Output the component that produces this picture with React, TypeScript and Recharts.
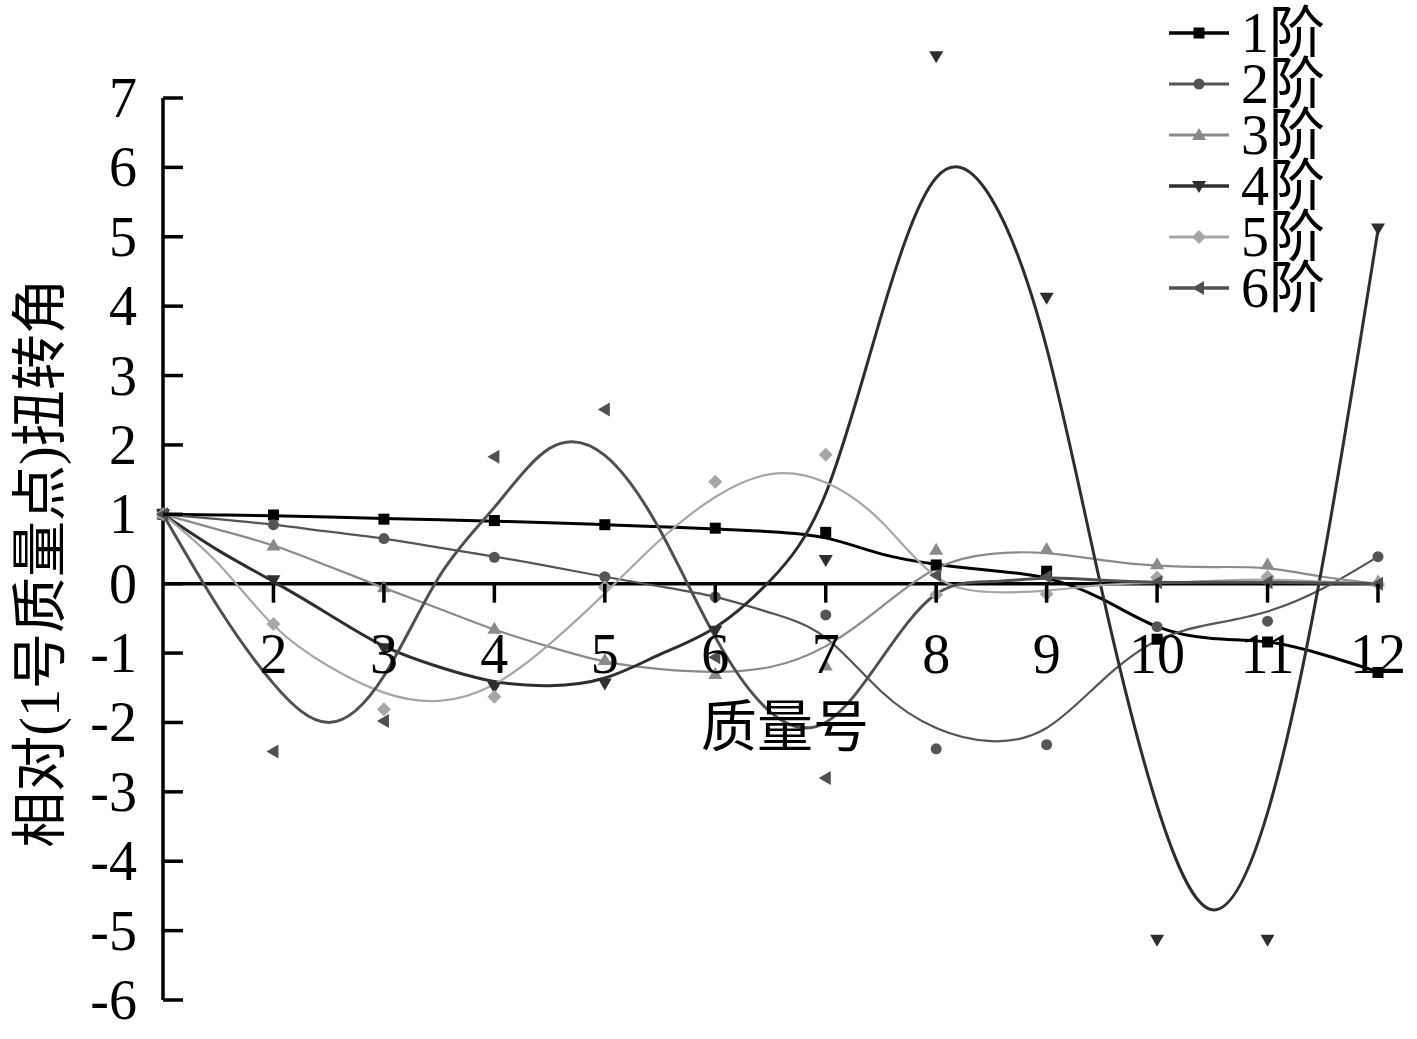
import React from "react"
import { ComposedChart, Line, XAxis, YAxis, ReferenceLine } from "recharts"

// mass numbers (marker positions) and the x positions sampled along the fitted curves
const massNo = [1, 2, 3, 4, 5, 6, 7, 8, 9, 10, 11, 12]
const curveX = [1, 1.5, 2, 2.5, 3, 3.5, 4, 4.5, 5, 5.5, 6, 6.5, 7, 7.5, 8, 8.5, 9, 9.5, 10, 10.5, 11, 11.5, 12]

const yTicks = [-6, -5, -4, -3, -2, -1, 0, 1, 2, 3, 4, 5, 6, 7]
const xTicks = [2, 3, 4, 5, 6, 7, 8, 9, 10, 11, 12]

// marker values
const mode1Pts = [1, 0.99, 0.93, 0.91, 0.85, 0.8, 0.74, 0.27, 0.18, -0.8, -0.84, -1.28]
const mode2Pts = [1, 0.85, 0.65, 0.38, 0.1, -0.19, -0.45, -2.38, -2.32, -0.62, -0.54, 0.39]
const mode3Pts = [1, 0.55, -0.05, -0.65, -1.1, -1.3, -1.18, 0.49, 0.5, 0.28, 0.28, 0.03]
const mode4Pts = [1, 0.05, -0.93, -1.49, -1.44, -0.68, 0.34, 7.6, 4.12, -5.13, -5.13, 5.12]
const mode5Pts = [1, -0.58, -1.81, -1.63, -0.05, 1.47, 1.86, -0.16, -0.15, 0.09, 0.1, 0.0]
const mode6Pts = [1, -2.42, -1.98, 1.83, 2.51, -1.06, -2.8, 0.12, 0.1, 0.02, 0.02, 0.0]

// curve values
const mode1Curve = [1.0, 0.99, 0.98, 0.96, 0.94, 0.92, 0.9, 0.88, 0.85, 0.82, 0.79, 0.75, 0.66, 0.43, 0.28, 0.19, 0.08, -0.22, -0.62, -0.79, -0.84, -1.02, -1.27]
const mode2Curve = [1, 0.93, 0.85, 0.75, 0.65, 0.52, 0.39, 0.25, 0.1, -0.04, -0.19, -0.42, -0.78, -1.55, -2.08, -2.27, -2.08, -1.4, -0.82, -0.58, -0.4, -0.07, 0.39]
const mode3Curve = [1, 0.78, 0.55, 0.25, -0.06, -0.36, -0.66, -0.91, -1.12, -1.23, -1.27, -1.2, -0.9, -0.34, 0.22, 0.43, 0.44, 0.34, 0.26, 0.24, 0.22, 0.1, 0.0]
const mode4Curve = [1, 0.48, 0.03, -0.44, -0.9, -1.2, -1.41, -1.47, -1.36, -1.02, -0.63, 0.05, 1.3, 3.85, 5.85, 5.55, 3.4, -0.1, -3.2, -4.7, -3.3, 0.3, 5.1]
const mode5Curve = [1, 0.29, -0.6, -1.19, -1.57, -1.69, -1.45, -0.87, -0.14, 0.63, 1.25, 1.58, 1.46, 0.9, 0.1, -0.12, -0.1, -0.02, 0.01, 0.04, 0.06, 0.03, 0.0]
const mode6Curve = [1, -0.34, -1.44, -2.0, -1.33, 0.1, 1.1, 1.95, 1.85, 0.77, -0.77, -1.85, -2.0, -1.09, -0.15, 0.03, 0.08, 0.05, 0.02, 0.02, 0.02, 0.01, 0.0]

const modeNames = ["1阶", "2阶", "3阶", "4阶", "5阶", "6阶"]

type Shape = "square" | "circle" | "up" | "down" | "diamond" | "left"

const series = [
  { name: modeNames[0], pts: mode1Pts, curve: mode1Curve, color: "#000000", width: 3, shape: "square" as Shape },
  { name: modeNames[1], pts: mode2Pts, curve: mode2Curve, color: "#555555", width: 2.2, shape: "circle" as Shape },
  { name: modeNames[2], pts: mode3Pts, curve: mode3Curve, color: "#8a8a8a", width: 2.2, shape: "up" as Shape },
  { name: modeNames[3], pts: mode4Pts, curve: mode4Curve, color: "#2e2e2e", width: 3, shape: "down" as Shape },
  { name: modeNames[4], pts: mode5Pts, curve: mode5Curve, color: "#a6a6a6", width: 2.2, shape: "diamond" as Shape },
  { name: modeNames[5], pts: mode6Pts, curve: mode6Curve, color: "#505050", width: 3, shape: "left" as Shape },
]

const toPoints = (xs: number[], ys: number[]) => xs.map((x, i) => ({ x, y: ys[i] }))

const W = 1417
const H = 1039
const LEFT = 163
const RIGHT_GAP = 39
const X_AXIS_H = 30
const PLOT_BOTTOM = 1000
const Y_MIN = -6
const Y_MAX = 7.6
const UNIT = (PLOT_BOTTOM - 98) / 13
const PLOT_TOP = PLOT_BOTTOM - (Y_MAX - Y_MIN) * UNIT
const Y0 = PLOT_BOTTOM - (0 - Y_MIN) * UNIT

const FONT = "'Liberation Serif', 'Times New Roman', 'Noto Sans CJK SC', serif"
const FS = 56

function Marker({ cx, cy, shape, color }: { cx: number; cy: number; shape: Shape; color: string }) {
  if (cx == null || cy == null || isNaN(cx) || isNaN(cy)) return null
  const s = 5.5
  switch (shape) {
    case "square":
      return <rect x={cx - s} y={cy - s} width={s * 2} height={s * 2} fill={color} />
    case "circle":
      return <circle cx={cx} cy={cy} r={s} fill={color} />
    case "up":
      return <polygon points={`${cx},${cy - 7} ${cx - 7},${cy + 5} ${cx + 7},${cy + 5}`} fill={color} />
    case "down":
      return <polygon points={`${cx},${cy + 7} ${cx - 7},${cy - 5} ${cx + 7},${cy - 5}`} fill={color} />
    case "diamond":
      return <polygon points={`${cx},${cy - 7} ${cx + 7},${cy} ${cx},${cy + 7} ${cx - 7},${cy}`} fill={color} />
    default:
      return <polygon points={`${cx - 7},${cy} ${cx + 5},${cy - 7} ${cx + 5},${cy + 7}`} fill={color} />
  }
}

function YTick(props: any) {
  const { y, payload } = props
  return (
    <g>
      <line x1={LEFT} x2={LEFT + 20} y1={y} y2={y} stroke="#000" strokeWidth={3.5} />
      <text x={LEFT - 26} y={y} textAnchor="end" dominantBaseline="central" fontFamily={FONT} fontSize={FS} fill="#000">
        {payload.value}
      </text>
    </g>
  )
}

function XTick(props: any) {
  const { x, payload } = props
  return (
    <g>
      <line x1={x} x2={x} y1={Y0} y2={Y0 + 19} stroke="#000" strokeWidth={3.5} />
      <text x={x} y={Y0 + 70} textAnchor="middle" dominantBaseline="central" fontFamily={FONT} fontSize={FS} fill="#000">
        {payload.value}
      </text>
    </g>
  )
}

function ChartLegend() {
  return (
    <svg width={250} height={320} style={{ position: "absolute", left: 1165, top: 0 }}>
      {series.map((s, i) => {
        const cy = 33 + i * 51
        return (
          <g key={s.name}>
            <line x1={4} x2={64} y1={cy} y2={cy} stroke={s.color} strokeWidth={s.width + 0.6} />
            <Marker cx={34} cy={cy} shape={s.shape} color={s.color} />
            <text x={76} y={cy} dominantBaseline="central" fontFamily={FONT} fontSize={FS} fill="#000">
              {s.name}
            </text>
          </g>
        )
      })}
    </svg>
  )
}

export default function App() {
  return (
    <div style={{ position: "absolute", left: 0, top: 0, width: W, height: H, background: "#fff" }}>
      <ComposedChart
        width={W}
        height={H}
        margin={{ top: PLOT_TOP, right: RIGHT_GAP, bottom: H - PLOT_BOTTOM - X_AXIS_H, left: LEFT - 80 }}
      >
        <XAxis
          type="number"
          dataKey="x"
          domain={[1, 12]}
          ticks={xTicks}
          interval={0}
          axisLine={false}
          tickLine={false}
          tick={<XTick />}
          height={X_AXIS_H}
        />
        <YAxis
          type="number"
          domain={[Y_MIN, Y_MAX]}
          ticks={yTicks}
          interval={0}
          axisLine={false}
          tickLine={false}
          tick={<YTick />}
          width={80}
        />
        <ReferenceLine y={0} stroke="#000" strokeWidth={3.5} />
        <ReferenceLine
          segment={[
            { x: 1, y: -6 },
            { x: 1, y: 7 },
          ]}
          stroke="#000"
          strokeWidth={3.5}
        />
        {series.map((s) => (
          <Line
            key={`${s.name}-curve`}
            data={toPoints(curveX, s.curve)}
            dataKey="y"
            type="natural"
            stroke={s.color}
            strokeWidth={s.width}
            dot={false}
            activeDot={false}
            legendType="none"
            isAnimationActive={false}
          />
        ))}
        {series.map((s) => (
          <Line
            key={`${s.name}-pts`}
            data={toPoints(massNo, s.pts)}
            dataKey="y"
            stroke="none"
            strokeWidth={0}
            dot={(p: any) => (
              <Marker key={`${s.name}-${p.index}`} cx={p.cx} cy={p.cy} shape={s.shape} color={s.color} />
            )}
            activeDot={false}
            legendType="none"
            isAnimationActive={false}
          />
        ))}
      </ComposedChart>
      <ChartLegend />
      <div
        style={{
          position: "absolute",
          left: 785 - 150,
          top: 727 - 35,
          width: 300,
          height: 70,
          lineHeight: "70px",
          textAlign: "center",
          fontFamily: FONT,
          fontSize: FS,
        }}
      >
        质量号
      </div>
      <div
        style={{
          position: "absolute",
          left: 40 - 350,
          top: 563 - 35,
          width: 700,
          height: 70,
          lineHeight: "70px",
          textAlign: "center",
          fontFamily: FONT,
          fontSize: FS,
          transform: "rotate(-90deg)",
          whiteSpace: "nowrap",
        }}
      >
        相对(1号质量点)扭转角
      </div>
    </div>
  )
}
